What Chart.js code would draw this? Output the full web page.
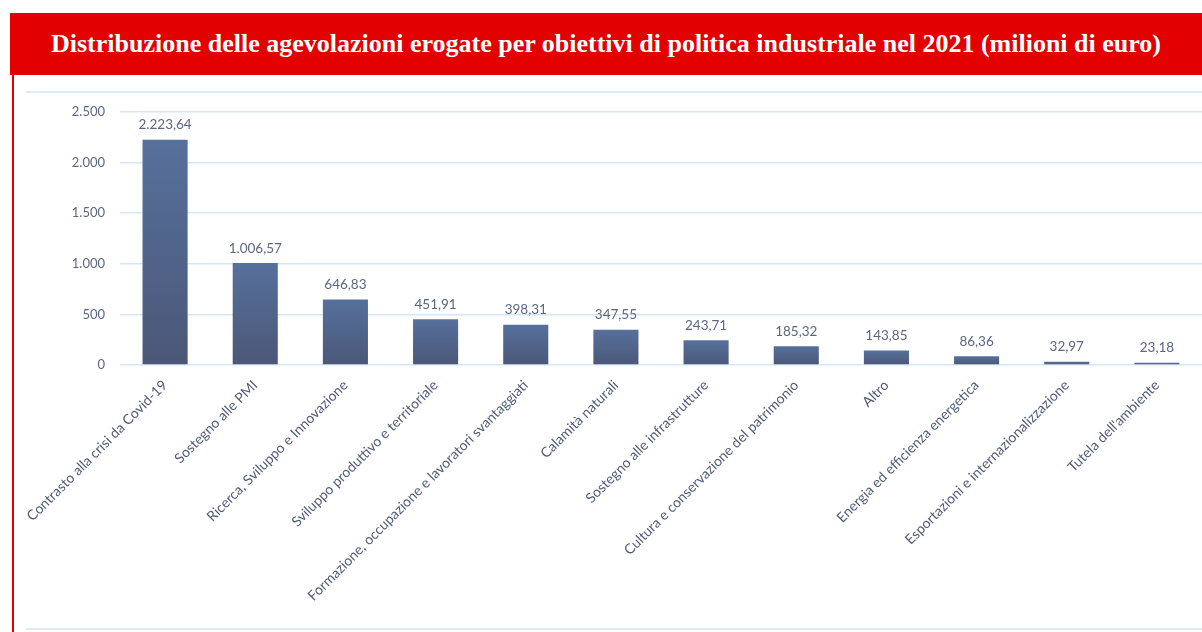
<!DOCTYPE html>
<html>
<head>
<meta charset="utf-8">
<script src="https://cdn.jsdelivr.net/npm/chart.js@4/dist/chart.umd.min.js"></script>
<style>
  html, body { margin: 0; padding: 0; background: #fff; }
  body { width: 1202px; height: 632px; position: relative; overflow: hidden; }
  #header {
    position: absolute; left: 10px; top: 13px; width: 1192px; height: 62px;
    background: #e30000; color: #fff;
    font-family: "Liberation Serif", "DejaVu Serif", serif; font-weight: bold; font-size: 26px;
    display: flex; align-items: center; justify-content: center;
  }
  #leftBar { position: absolute; left: 12px; top: 75px; width: 2px; height: 557px; background: #e30000; }
  .hline { position: absolute; left: 26px; width: 1176px; height: 2px; background: #dcebf7; }
  #wrap { position: absolute; left: 14px; top: 89px; width: 1188px; height: 536px; }
</style>
</head>
<body>
<div id="header">Distribuzione delle agevolazioni erogate per obiettivi di politica industriale nel 2021 (milioni di euro)</div>
<div id="leftBar"></div>
<div class="hline" style="top:91px"></div>
<div class="hline" style="top:628px"></div>
<div id="wrap"><canvas id="chart"></canvas></div>
<script>
const categories = [
  'Contrasto alla crisi da Covid-19',
  'Sostegno alle PMI',
  'Ricerca, Sviluppo e Innovazione',
  'Sviluppo produttivo e territoriale',
  'Formazione, occupazione e lavoratori svantaggiati',
  'Calamità naturali',
  'Sostegno alle infrastrutture',
  'Cultura e conservazione del patrimonio',
  'Altro',
  'Energia ed efficienza energetica',
  'Esportazioni e internazionalizzazione',
  "Tutela dell'ambiente"
];
const values = [2223.64, 1006.57, 646.83, 451.91, 398.31, 347.55, 243.71, 185.32, 143.85, 86.36, 32.97, 23.18];
const yTicks = [0, 500, 1000, 1500, 2000, 2500];

const textColor = '#5b6680';

// Italian number format: 2.223,64
function fmtIt(v, decimals) {
  const parts = v.toFixed(decimals).split('.');
  parts[0] = parts[0].replace(/\B(?=(\d{3})+(?!\d))/g, '.');
  return parts.join(',');
}

const barLabels = {
  id: 'barLabels',
  afterDatasetsDraw(chart) {
    const ctx = chart.ctx;
    const meta = chart.getDatasetMeta(0);
    ctx.save();
    ctx.font = '13.5px Lato';
    ctx.fillStyle = textColor;
    ctx.textAlign = 'center';
    ctx.textBaseline = 'bottom';
    meta.data.forEach((bar, i) => {
      ctx.fillText(fmtIt(values[i], 2), bar.x, bar.y - 8);
    });
    ctx.restore();
  }
};

function barGradient(context) {
  const chart = context.chart;
  if (!chart.chartArea || !chart.scales.y) return '#52668e';
  const yScale = chart.scales.y;
  const top = yScale.getPixelForValue(values[context.dataIndex]);
  const bottom = yScale.getPixelForValue(0);
  const g = chart.ctx.createLinearGradient(0, top, 0, bottom);
  g.addColorStop(0, '#56709c');
  g.addColorStop(1, '#4b5777');
  return g;
}

new Chart(document.getElementById('chart'), {
  type: 'bar',
  data: {
    labels: categories,
    datasets: [{
      data: values,
      backgroundColor: barGradient,
      borderWidth: 0,
      barPercentage: 0.5,
      categoryPercentage: 1.0
    }]
  },
  options: {
    responsive: true,
    maintainAspectRatio: false,
    animation: false,
    layout: { padding: { top: 10, right: 0, left: 0, bottom: 0 } },
    plugins: {
      legend: { display: false },
      tooltip: { enabled: false }
    },
    scales: {
      x: {
        grid: { display: false },
        border: { display: false },
        ticks: {
          color: '#4f5a75',
          font: { family: 'Lato', size: 14 },
          minRotation: 45,
          maxRotation: 45,
          autoSkip: false,
          padding: 4
        },
        afterFit(scale) { scale.height = 260; }
      },
      y: {
        min: 0,
        max: 2500,
        afterBuildTicks(scale) { scale.ticks = yTicks.map(v => ({ value: v })); },
        grid: { color: '#d6e6f5', lineWidth: 1.5, drawTicks: false },
        border: { display: false },
        ticks: {
          color: textColor,
          font: { family: 'Lato', size: 13 },
          padding: 15,
          callback: v => fmtIt(v, 0)
        },
        afterFit(scale) { scale.width = 106; }
      }
    }
  },
  plugins: [barLabels]
});
</script>
</body>
</html>
